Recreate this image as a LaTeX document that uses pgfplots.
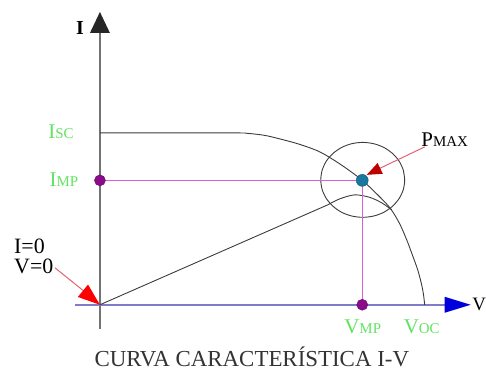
\documentclass[border=0pt]{standalone}
\usepackage{pgfplots}
\pgfplotsset{compat=1.18}
\usepackage{fontspec}
\setmainfont{Liberation Serif}
\definecolor{lgreen}{RGB}{95,228,95}
\definecolor{axgray}{RGB}{115,115,115}
\definecolor{axblue}{RGB}{125,125,200}
\definecolor{arrblue}{RGB}{0,0,220}
\definecolor{curvegray}{RGB}{60,60,60}
\definecolor{pinkline}{RGB}{215,95,215}
\definecolor{redline}{RGB}{225,100,115}
\definecolor{dotpurple}{RGB}{140,10,140}
\definecolor{dotblue}{RGB}{25,120,160}
\begin{document}
\begin{tikzpicture}
\begin{axis}[x=1bp,y=1bp,xmin=-100,xmax=386,ymin=-62,ymax=305,hide axis,clip=false]
\path (rel axis cs:0,0) rectangle (rel axis cs:1,1);
% axes
\addplot[axgray,line width=1.6bp] coordinates {(0,-24) (0,272)};
\addplot[fill=black!85,draw=none] coordinates {(-10,272) (10,272) (0,293)};
\addplot[axblue,line width=1.6bp] coordinates {(-25,0) (345,0)};
\addplot[fill=arrblue,draw=none] coordinates {(345,8) (345,-8) (371,0)};
% I-V curve
\addplot[curvegray,line width=0.9bp,smooth,tension=0.5] coordinates {(0,172) (130,172) (148,171.5) (165,169.5) (180,166) (200,160.5) (220,153) (240,141) (262,125) (280,108) (291,96) (300,81) (307,65) (313,49) (318,35) (321.5,22) (323.7,11) (325,0)};
% power curve
\addplot[curvegray,line width=0.9bp] coordinates {(0,0) (228,100)};
\addplot[curvegray,line width=0.9bp,smooth] coordinates {(228,100) (240,106) (255,110) (270,107.5) (282,102) (292,95)};
% circle
\addplot[curvegray,line width=0.9bp,smooth] coordinates {(305,125) (303.6,134.7) (299.4,143.8) (292.7,151.5) (284,157.5) (273.9,161.2) (263,162.5) (252.1,161.2) (242,157.5) (233.3,151.5) (226.6,143.8) (222.4,134.7) (221,125) (222.4,115.3) (226.6,106.3) (233.3,98.5) (242,92.5) (252.1,88.8) (263,87.5) (273.9,88.8) (284,92.5) (292.7,98.5) (299.4,106.3) (303.6,115.3) (305,125) (303.6,134.7)};
% pink lines
\addplot[pinkline,line width=1.2bp] coordinates {(0,124.5) (262.5,124.5) (262.5,0)};
% red arrows
\addplot[redline,line width=1bp] coordinates {(-45,37) (-14,12)};
\addplot[fill=red,draw=none] coordinates {(0,0) (-11.9,20.2) (-22.1,7.8)};
\addplot[redline,line width=1bp] coordinates {(325,158) (279,136)};
\addplot[fill=red!75!black,draw=none] coordinates {(267,130) (283.1,131.1) (277.9,141.9)};
% dots
\addplot[only marks,mark=*,mark size=5.5bp,mark options={fill=dotpurple,draw=dotpurple!70!black}] coordinates {(0,124.5) (262.5,0)};
\addplot[only marks,mark=*,mark size=6bp,mark options={fill=dotblue,draw=dotblue!70!black}] coordinates {(262.5,124.5)};
% labels
\node[font=\fontsize{20}{20}\selectfont\bfseries] at (axis cs:-20,277) {I};
\node[anchor=west,inner sep=0pt,font=\fontsize{19}{19}\selectfont] at (axis cs:372.5,0) {V};
\node[text=lgreen,font=\fontsize{21}{21}\selectfont] at (axis cs:-39,173) {I{\fontsize{15}{15}\selectfont SC}};
\node[text=lgreen,font=\fontsize{21}{21}\selectfont] at (axis cs:-36,125) {I{\fontsize{15}{15}\selectfont MP}};
\node[text=lgreen,font=\fontsize{21}{21}\selectfont] at (axis cs:263,-22) {V{\fontsize{15}{15}\selectfont MP}};
\node[text=lgreen,font=\fontsize{21}{21}\selectfont] at (axis cs:322,-22) {V{\fontsize{15}{15}\selectfont OC}};
\node[font=\fontsize{21}{21}\selectfont] at (axis cs:345,165) {P{\fontsize{15}{15}\selectfont MAX}};
\node[anchor=north west,align=left,inner sep=0pt,font=\fontsize{22}{20}\selectfont] at (axis cs:-86,66) {I=0\\V=0};
\node[text=black!80,font=\fontsize{23}{23}\selectfont] at (axis cs:152,-52) {CURVA CARACTERÍSTICA I-V};
\end{axis}
\end{tikzpicture}
\end{document}
